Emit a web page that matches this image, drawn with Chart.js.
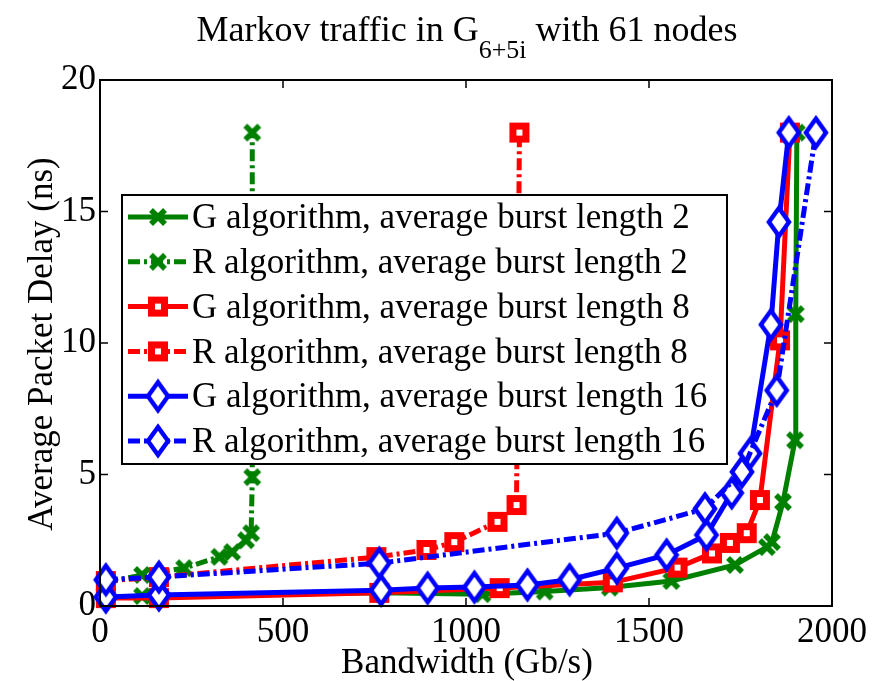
<!DOCTYPE html>
<html>
<head>
<meta charset="utf-8">
<script src="https://cdn.jsdelivr.net/npm/chart.js@4"></script>
<style>
  body { margin: 0; background: #fff; }
  #wrap { width: 883px; height: 681px; }
</style>
</head>
<body>
<div id="wrap"><canvas id="chart" width="883" height="681"></canvas></div>
<script>
// bandwidth (Gb/s) and average packet delay (ns)
const g2Bw = [16, 115, 763, 1045, 1215, 1393, 1561, 1735, 1822, 1836, 1866, 1899, 1901, 1904];
const g2Delay = [0.3, 0.38, 0.5, 0.45, 0.55, 0.7, 0.95, 1.56, 2.24, 2.43, 3.95, 6.3, 11.1, 18];
const r2Bw = [16, 115, 230, 326, 361, 399, 413, 416, 416];
const r2Delay = [0.9, 1.18, 1.44, 1.87, 2.05, 2.5, 2.77, 4.9, 18];
const g8Bw = [16, 161, 763, 1092, 1401, 1578, 1672, 1721, 1767, 1803, 1858, 1885];
const g8Delay = [0.3, 0.3, 0.5, 0.68, 0.9, 1.46, 2.0, 2.4, 2.77, 4.03, 10.1, 18];
const r8Bw = [16, 161, 755, 892, 968, 1086, 1138, 1146];
const r8Delay = [0.95, 1.1, 1.86, 2.13, 2.43, 3.2, 3.84, 18];
const g16Bw = [16, 161, 768, 895, 1023, 1168, 1283, 1412, 1548, 1657, 1726, 1776, 1833, 1855, 1882];
const g16Delay = [0.34, 0.42, 0.6, 0.68, 0.72, 0.8, 1.0, 1.44, 1.94, 2.7, 4.3, 5.8, 10.7, 14.6, 18];
const r16Bw = [16, 161, 763, 1412, 1653, 1754, 1849, 1956];
const r16Delay = [1.0, 1.1, 1.63, 2.77, 3.7, 5.1, 8.2, 18];

const xTicks = [0, 500, 1000, 1500, 2000];
const yTicks = [0, 5, 10, 15, 20];

const GREEN = '#008000', RED = '#ff0000', BLUE = '#0000ff';
const FONT = "'Liberation Serif', 'Times New Roman', serif";

function markerCanvas(w, h, draw) {
    const c = document.createElement('canvas');
    c.width = w;
    c.height = h;
    draw(c.getContext('2d'));
    return c;
}

const crossMark = markerCanvas(22, 22, function (ctx) {
    ctx.strokeStyle = GREEN;
    ctx.lineWidth = 5.5;
    ctx.beginPath();
    ctx.moveTo(4, 4); ctx.lineTo(18, 18);
    ctx.moveTo(4, 18); ctx.lineTo(18, 4);
    ctx.stroke();
});

const squareMark = markerCanvas(24, 24, function (ctx) {
    ctx.fillStyle = '#fff';
    ctx.fillRect(4, 4, 16, 16);
    ctx.strokeStyle = RED;
    ctx.lineWidth = 7;
    ctx.strokeRect(5.5, 5.5, 13, 13);
});

const diamondMark = markerCanvas(28, 36, function (ctx) {
    ctx.beginPath();
    ctx.moveTo(14, 4); ctx.lineTo(24, 18); ctx.lineTo(14, 32); ctx.lineTo(4, 18);
    ctx.closePath();
    ctx.fillStyle = '#fff';
    ctx.fill();
    ctx.strokeStyle = BLUE;
    ctx.lineWidth = 4.5;
    ctx.stroke();
});

const dashDot = [12, 4, 3, 4];

function series(label, xs, ys, color, marker, dashed, order) {
    return {
        label: label,
        data: xs.map((x, i) => ({ x: x, y: ys[i] })),
        borderColor: color,
        backgroundColor: color,
        borderWidth: 5,
        borderDash: dashed ? dashDot : [],
        pointStyle: marker,
        pointRadius: 10,
        pointHoverRadius: 10,
        showLine: true,
        tension: 0,
        clip: false,
        order: order
    };
}

const datasets = [
    series('G algorithm, average burst length 2', g2Bw, g2Delay, GREEN, crossMark, false, 6),
    series('R algorithm, average burst length 2', r2Bw, r2Delay, GREEN, crossMark, true, 5),
    series('G algorithm, average burst length 8', g8Bw, g8Delay, RED, squareMark, false, 4),
    series('R algorithm, average burst length 8', r8Bw, r8Delay, RED, squareMark, true, 3),
    series('G algorithm, average burst length 16', g16Bw, g16Delay, BLUE, diamondMark, false, 2),
    series('R algorithm, average burst length 16', r16Bw, r16Delay, BLUE, diamondMark, true, 1)
];

// frame, inward ticks, legend box and the texts around the plot
const decorations = {
    id: 'decorations',
    afterDatasetsDraw(chart) {
        const ctx = chart.ctx;
        const a = chart.chartArea;
        const xs = chart.scales.x, ys = chart.scales.y;
        ctx.save();
        ctx.strokeStyle = '#000';
        ctx.lineWidth = 2;
        ctx.setLineDash([]);
        ctx.strokeRect(a.left, a.top, a.right - a.left, a.bottom - a.top);
        ctx.lineWidth = 1.5;
        ctx.beginPath();
        xTicks.slice(1, -1).forEach(v => {
            const px = xs.getPixelForValue(v);
            ctx.moveTo(px, a.bottom); ctx.lineTo(px, a.bottom - 8);
            ctx.moveTo(px, a.top); ctx.lineTo(px, a.top + 8);
        });
        yTicks.slice(1, -1).forEach(v => {
            const py = ys.getPixelForValue(v);
            ctx.moveTo(a.left, py); ctx.lineTo(a.left + 8, py);
            ctx.moveTo(a.right, py); ctx.lineTo(a.right - 8, py);
        });
        ctx.stroke();

        // legend
        const box = { x: 122, y: 195, w: 605, h: 269 };
        ctx.fillStyle = '#fff';
        ctx.fillRect(box.x, box.y, box.w, box.h);
        ctx.lineWidth = 2;
        ctx.strokeStyle = '#000';
        ctx.strokeRect(box.x, box.y, box.w, box.h);
        ctx.font = '35px ' + FONT;
        ctx.textBaseline = 'middle';
        ctx.textAlign = 'left';
        chart.data.datasets.forEach((ds, i) => {
            const cy = box.y + 22 + i * 44.8;
            ctx.strokeStyle = ds.borderColor;
            ctx.lineWidth = 5;
            ctx.setLineDash(ds.borderDash);
            ctx.beginPath();
            ctx.moveTo(128, cy); ctx.lineTo(188, cy);
            ctx.stroke();
            ctx.setLineDash([]);
            const m = ds.pointStyle;
            ctx.drawImage(m, 158 - m.width / 2, cy - m.height / 2);
            ctx.fillStyle = '#000';
            ctx.fillText(ds.label, 192, cy + 2);
        });
        ctx.restore();
    },
    afterDraw(chart) {
        const ctx = chart.ctx;
        ctx.save();
        ctx.fillStyle = '#000';
        ctx.textBaseline = 'alphabetic';
        // title with subscript
        const main1 = 'Markov traffic in G', sub = '6+5i', main2 = ' with 61 nodes';
        ctx.font = '36px ' + FONT;
        const w1 = ctx.measureText(main1).width, w3 = ctx.measureText(main2).width;
        ctx.font = '26px ' + FONT;
        const w2 = ctx.measureText(sub).width;
        let x = 467 - (w1 + w2 + w3) / 2;
        ctx.textAlign = 'left';
        ctx.font = '36px ' + FONT;
        ctx.fillText(main1, x, 41);
        x += w1;
        ctx.font = '26px ' + FONT;
        ctx.fillText(sub, x, 58);
        x += w2;
        ctx.font = '36px ' + FONT;
        ctx.fillText(main2, x, 41);

        // axis titles
        ctx.font = '35px ' + FONT;
        ctx.textAlign = 'center';
        ctx.fillText('Bandwidth (Gb/s)', 467, 673);
        ctx.translate(52, 344);
        ctx.rotate(-Math.PI / 2);
        ctx.fillText('Average Packet Delay (ns)', 0, 0);
        ctx.restore();
    }
};

new Chart(document.getElementById('chart'), {
    type: 'scatter',
    data: { datasets: datasets },
    options: {
        responsive: false,
        animation: false,
        layout: { padding: { top: 80, right: 51, left: 0, bottom: 0 } },
        plugins: {
            legend: { display: false },
            tooltip: { enabled: false }
        },
        scales: {
            x: {
                type: 'linear',
                min: 0, max: 2000,
                afterFit: s => { s.height = 75; },
                afterBuildTicks: s => { s.ticks = xTicks.map(v => ({ value: v })); },
                grid: { display: false, drawTicks: false },
                border: { display: false },
                ticks: {
                    color: '#000', padding: 6, maxRotation: 0,
                    font: { family: FONT, size: 35 },
                    callback: v => String(v)
                }
            },
            y: {
                type: 'linear',
                min: 0, max: 20,
                afterFit: s => { s.width = 100; },
                afterBuildTicks: s => { s.ticks = yTicks.map(v => ({ value: v })); },
                grid: { display: false, drawTicks: false },
                border: { display: false },
                ticks: {
                    color: '#000', padding: 4,
                    font: { family: FONT, size: 35 },
                    callback: v => String(v)
                }
            }
        }
    },
    plugins: [decorations]
});
</script>
</body>
</html>
